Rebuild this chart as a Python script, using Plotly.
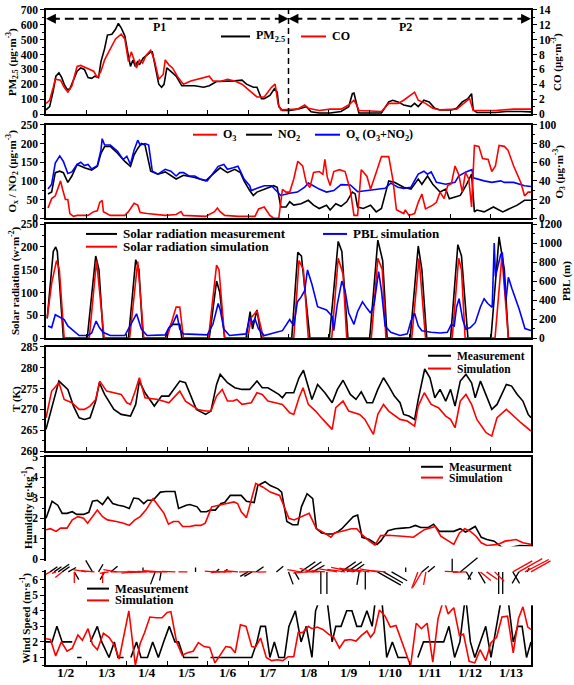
import math
import plotly.graph_objects as go

W, H = 574, 685
FONT = "Liberation Serif"
RED, BLUE, BLACK = "#ff0000", "#0000ff", "#000000"

# ---------------- data (time in days since 1/2 00:00, value) ----------------
day_labels = ["1/2", "1/3", "1/4", "1/5", "1/6", "1/7", "1/8", "1/9", "1/10", "1/11", "1/12", "1/13"]
period_split = 6.0

pm25 = [(0,28),(0.09,50),(0.18,158),(0.245,255),(0.32,277),(0.39,245),(0.45,200),(0.53,163),(0.59,170),(0.68,223),
        (0.77,288),(0.86,310),(0.95,300),(1.04,245),(1.13,240),(1.21,255),(1.30,245),(1.36,353),(1.45,440),(1.52,531),
        (1.63,537),(1.72,570),(1.79,609),(1.86,580),(1.95,526),(2.02,418),(2.09,320),(2.15,364),(2.21,320),(2.27,357),
        (2.31,331),(2.40,375),(2.50,396),(2.59,418),(2.63,418),(2.72,288),(2.79,201),(2.86,180),(2.92,200),(2.99,310),
        (3.09,288),(3.22,255),(3.36,190),(3.49,190),(3.68,190),(3.90,180),(4.04,190),(4.22,219),(4.40,219),(4.67,223),
        (4.85,228),(4.96,201),(5.13,180),(5.22,180),(5.33,104),(5.40,104),(5.54,126),(5.65,170),(5.72,148),(5.76,50),
        (5.85,24),(6.03,24),(6.22,33),(6.35,46),(6.44,50),(6.56,15),(6.76,7),(7.03,7),(7.30,17),(7.49,50),(7.58,137),
        (7.62,141),(7.69,72),(7.74,7),(7.94,7),(8.30,7),(8.48,82),(8.58,93),(8.71,82),(8.85,61),(9.03,50),(9.12,72),
        (9.21,50),(9.35,93),(9.48,82),(9.62,39),(9.75,28),(10.03,28),(10.16,39),(10.30,82),(10.44,104),(10.53,137),
        (10.57,28),(10.66,11),(11.12,11),(11.39,17),(11.75,17),(12.0,15)]

co = [(0,1.42),(0.09,1.86),(0.18,3.6),(0.23,4.68),(0.36,4.56),(0.45,3.6),(0.54,2.94),(0.64,3.8),(0.77,6.4),(0.86,6.54),
      (1.0,6.2),(1.09,6.0),(1.18,5.76),(1.27,4.9),(1.36,5.76),(1.45,7.28),(1.59,8.8),(1.72,10.1),(1.86,10.74),(1.95,10.1),
      (2.04,7.06),(2.11,8.36),(2.18,7.28),(2.24,6.2),(2.31,7.28),(2.39,6.84),(2.48,7.92),(2.59,8.58),(2.68,7.28),(2.79,4.68),
      (2.90,5.32),(2.95,7.28),(3.04,6.62),(3.13,6.2),(3.27,4.9),(3.40,4.02),(3.58,4.46),(3.81,4.8),(4.04,5.1),(4.13,4.46),
      (4.31,4.38),(4.49,4.68),(4.67,4.46),(4.85,4.02),(5.04,3.16),(5.22,2.3),(5.40,2.3),(5.58,3.6),(5.67,4.02),(5.74,1.42),
      (5.81,0.56),(6.03,0.56),(6.22,0.66),(6.40,1.22),(6.49,0.78),(6.76,0.48),(7.03,0.66),(7.30,0.66),(7.49,1.22),(7.62,1.86),
      (7.69,1.22),(7.74,0.48),(8.30,0.34),(8.48,1.44),(8.71,1.44),(8.85,1.86),(9.03,2.52),(9.12,2.94),(9.21,1.86),(9.39,1.44),
      (9.57,0.78),(9.75,0.56),(10.16,0.66),(10.34,1.44),(10.48,2.08),(10.57,0.48),(11.12,0.48),(11.57,0.66),(12.0,0.66)]

ox = [(0.05,78),(0.14,91),(0.23,148),(0.34,167),(0.43,152),(0.54,120),(0.64,124),(0.77,144),(0.86,150),(0.95,141),
      (1.04,144),(1.13,132),(1.27,141),(1.36,183),(1.39,213),(1.45,196),(1.59,196),(1.77,179),(1.91,157),(2.0,166),
      (2.09,144),(2.18,183),(2.27,209),(2.33,196),(2.45,200),(2.54,196),(2.63,126),(2.77,118),(2.95,131),(3.09,126),
      (3.22,113),(3.31,122),(3.40,122),(3.54,113),(3.68,113),(3.81,105),(3.99,100),(4.13,122),(4.26,139),(4.40,144),
      (4.49,131),(4.63,135),(4.75,139),(4.81,126),(4.90,105),(5.04,87),(5.08,74),(5.22,80),(5.40,87),(5.58,87),
      (5.81,61),(6.03,67),(6.22,70),(6.40,83),(6.49,94),(6.58,89),(6.76,78),(6.94,70),(7.12,74),(7.30,90),(7.53,89),
      (7.71,71),(7.94,74),(8.21,78),(8.39,80),(8.53,94),(8.71,83),(8.85,80),(9.03,83),(9.21,118),(9.35,126),(9.44,118),
      (9.53,124),(9.66,96),(9.89,91),(10.12,96),(10.21,113),(10.39,124),(10.54,130),(10.57,108),(10.66,105),(10.84,100),
      (11.03,96),(11.16,98),(11.25,100),(11.34,96),(11.57,96),(11.84,87),(12.0,85)]

no2 = [(0.05,65),(0.14,70),(0.23,122),(0.34,126),(0.43,122),(0.54,96),(0.64,113),(0.77,144),(0.95,135),(1.13,129),
       (1.27,139),(1.36,174),(1.45,192),(1.59,192),(1.77,174),(1.95,152),(2.09,139),(2.18,170),(2.27,187),(2.36,200),
       (2.45,196),(2.59,126),(2.77,118),(2.95,124),(3.22,105),(3.40,115),(3.68,109),(3.95,100),(4.13,118),(4.31,135),
       (4.49,122),(4.67,131),(4.81,122),(4.90,100),(5.04,74),(5.13,61),(5.22,70),(5.40,78),(5.63,87),(5.72,83),(5.81,30),
       (5.94,30),(6.03,44),(6.13,35),(6.31,39),(6.49,48),(6.62,35),(6.76,26),(6.94,35),(7.03,22),(7.17,39),(7.30,32),
       (7.44,44),(7.58,70),(7.65,65),(7.71,30),(7.85,26),(8.03,35),(8.17,17),(8.30,26),(8.48,100),(8.62,96),(8.85,83),
       (9.03,78),(9.21,105),(9.30,91),(9.44,113),(9.57,91),(9.75,70),(9.89,78),(9.98,52),(10.12,57),(10.25,61),
       (10.39,87),(10.53,118),(10.60,17),(10.66,22),(10.84,17),(11.07,30),(11.30,17),(11.48,26),(11.66,35),(11.84,48),(12.0,48)]

o3 = [(0.05,11),(0.14,21),(0.23,24),(0.32,37),(0.36,40),(0.41,31),(0.48,20),(0.54,20),(0.59,5),(0.68,2),(0.77,3),
      (1.04,3),(1.18,7),(1.27,8),(1.33,17),(1.39,19),(1.42,7),(1.59,3),(1.95,3),(2.04,7),(2.18,16),(2.27,14),(2.33,6),
      (2.50,5),(2.95,3),(3.22,4),(3.34,7),(3.40,3),(3.95,2),(4.17,7),(4.24,11),(4.31,7),(4.42,3),(4.76,2),(5.17,2),
      (5.26,10),(5.40,12),(5.54,3),(5.63,0),(5.76,0),(5.85,31),(5.94,28),(6.03,28),(6.13,42),(6.23,61),(6.35,56),
      (6.44,38),(6.53,33),(6.62,49),(6.76,50),(6.85,47),(6.90,63),(6.96,44),(7.03,35),(7.12,50),(7.26,52),(7.40,50),
      (7.53,30),(7.62,3),(7.71,3),(7.80,52),(7.94,45),(8.03,31),(8.17,49),(8.30,66),(8.48,66),(8.58,42),(8.67,9),
      (8.76,7),(8.85,5),(8.89,9),(8.98,3),(9.12,5),(9.21,17),(9.30,26),(9.39,10),(9.57,14),(9.66,17),(9.75,28),
      (9.85,21),(9.94,35),(10.03,37),(10.12,56),(10.21,47),(10.30,28),(10.38,49),(10.46,42),(10.53,12),(10.60,78),
      (10.71,77),(10.80,64),(10.94,63),(11.03,50),(11.12,56),(11.21,78),(11.34,77),(11.43,73),(11.57,56),(11.75,38),
      (11.84,24),(11.93,28),(12.0,28)]

solar_meas = [(0.03,43),(0.18,190),(0.24,200),(0.28,190),(0.43,0),
              (1.02,0),(1.23,180),(1.31,150),(1.42,0),
              (2.04,0),(2.22,172),(2.30,150),(2.40,0),
              (2.95,0),(3.09,30),(3.31,30),(3.36,0),
              (4.04,0),(4.22,125),(4.30,100),(4.42,0),
              (4.95,0),(5.05,58),(5.11,20),(5.22,62),(5.33,0),
              (6.08,0),(6.23,188),(6.32,180),(6.53,0),
              (7.01,0),(7.23,212),(7.32,190),(7.47,0),
              (8.01,0),(8.21,215),(8.33,170),(8.44,0),
              (9.01,0),(9.21,202),(9.30,150),(9.42,0),
              (10.01,0),(10.19,205),(10.28,180),(10.44,0),
              (11.01,0),(11.21,222),(11.34,150),(11.44,0),(12.0,0)]

solar_sim = [(0.03,45),(0.14,120),(0.26,170),(0.33,150),(0.45,0),
             (1.07,0),(1.25,170),(1.44,0),
             (2.07,0),(2.27,168),(2.42,0),
             (2.99,0),(3.22,68),(3.31,68),(3.40,0),
             (4.02,0),(4.22,160),(4.28,150),(4.42,0),
             (4.99,0),(5.08,45),(5.22,60),(5.38,0),
             (6.13,0),(6.26,170),(6.37,150),(6.49,0),
             (7.07,0),(7.23,175),(7.35,140),(7.44,0),
             (8.05,0),(8.21,175),(8.32,150),(8.41,0),
             (9.05,0),(9.23,175),(9.39,0),
             (10.05,0),(10.21,175),(10.28,150),(10.37,0),
             (11.11,0),(11.28,180),(11.44,0),(12.0,0)]

pbl = [(0.05,128),(0.14,111),(0.23,246),(0.36,212),(0.45,195),(0.54,128),(0.64,94),(0.73,61),(0.82,27),(1.04,27),
       (1.13,54),(1.24,179),(1.32,111),(1.41,61),(1.59,27),(1.95,27),(2.13,162),(2.24,256),(2.36,94),(2.50,27),
       (2.95,34),(3.04,111),(3.11,128),(3.18,195),(3.24,246),(3.31,94),(3.40,44),(3.99,34),(4.13,145),(4.26,364),
       (4.31,297),(4.40,94),(4.54,27),(4.95,44),(5.04,212),(5.11,162),(5.17,202),(5.26,94),(5.40,27),(5.63,54),
       (5.85,78),(6.03,195),(6.13,128),(6.22,381),(6.31,431),(6.40,499),(6.47,718),(6.58,566),(6.72,330),(6.94,297),
       (7.08,229),(7.12,78),(7.21,364),(7.32,600),(7.40,499),(7.49,263),(7.62,145),(7.71,280),(7.83,381),(7.94,313),
       (8.03,263),(8.12,364),(8.23,701),(8.30,499),(8.39,128),(8.53,61),(8.76,27),(8.94,44),(9.03,179),(9.12,263),
       (9.21,128),(9.30,78),(9.53,61),(9.75,54),(9.93,61),(10.03,145),(10.10,128),(10.16,330),(10.22,414),(10.31,195),
       (10.39,94),(10.50,111),(10.62,162),(10.75,330),(10.84,414),(10.93,364),(11.04,324),(11.09,1000),(11.12,650),
       (11.25,880),(11.29,900),(11.38,400),(11.44,640),(11.53,520),(11.71,300),(11.85,100),(12.0,80)]

t_meas = [(0,265.2),(0.14,270),(0.32,276.8),(0.54,274.8),(0.68,270.8),(0.82,268),(0.95,267.6),(1.09,268),(1.23,272),
          (1.32,276.4),(1.45,273.6),(1.68,270),(1.86,268.8),(2.09,268.4),(2.22,271.2),(2.31,276.8),(2.45,274),(2.68,270.8),
          (2.86,273.2),(3.04,273.2),(3.31,276.8),(3.45,276.4),(3.58,273.2),(3.72,270),(3.95,268.8),(4.08,269.6),(4.22,276),
          (4.31,278.4),(4.49,276.4),(4.67,275.2),(4.85,274.8),(5.04,274.8),(5.22,276.8),(5.35,275.2),(5.49,275.2),
          (5.63,274.4),(5.76,273.6),(5.85,272.8),(5.94,274),(6.13,274),(6.26,277.6),(6.37,279.4),(6.49,275.2),(6.58,272.4),
          (6.72,276),(6.90,274),(7.08,271.6),(7.21,274.8),(7.35,277),(7.53,273.6),(7.67,272.4),(7.80,274.2),(7.94,271.6),
          (8.08,271.6),(8.21,274.8),(8.35,277.6),(8.48,275.6),(8.62,273.2),(8.76,271.6),(8.85,268.8),(8.98,268.4),
          (9.12,267.6),(9.21,272.4),(9.37,279.7),(9.50,277.6),(9.62,272.8),(9.75,274.8),(9.89,272),(10.01,274.8),
          (10.12,270.8),(10.25,276.8),(10.39,278.4),(10.53,276.4),(10.62,272.8),(10.75,276.8),(10.89,273.6),(11.03,270),
          (11.16,271.2),(11.39,276),(11.52,275.6),(11.66,273.6),(11.80,272),(11.93,268.8),(12.0,268)]

t_sim = [(0,268),(0.14,274.4),(0.32,276.4),(0.45,272.4),(0.64,271.6),(0.82,270),(0.95,270),(1.09,270.8),(1.23,272.4),
         (1.33,276.8),(1.50,274.4),(1.68,274),(1.86,273.6),(2.0,271.6),(2.09,271.2),(2.22,274.8),(2.31,277.6),(2.45,272.8),
         (2.77,272.4),(3.04,271.6),(3.31,274.4),(3.45,272),(3.58,271.2),(3.76,270),(3.95,269.6),(4.08,269.6),(4.22,273.2),
         (4.36,274.8),(4.49,272),(4.63,272),(4.72,272.4),(4.85,271.2),(5.08,271.6),(5.22,274),(5.35,273.6),(5.49,272),
         (5.67,271.6),(5.85,271.2),(6.03,269.2),(6.13,268.8),(6.26,272.8),(6.36,275.2),(6.49,271.2),(6.67,269.6),
         (6.85,267.6),(7.08,265.2),(7.17,270.4),(7.35,272),(7.49,269.6),(7.76,268.8),(7.89,267.6),(8.10,264),(8.21,268.8),
         (8.35,271.2),(8.48,269.6),(8.76,267.6),(8.94,267.2),(9.12,266),(9.21,270.8),(9.36,274),(9.53,271.2),(9.71,270.4),
         (9.89,268.4),(10.01,267.6),(10.12,265.6),(10.25,272),(10.39,273.6),(10.53,271.2),(10.66,267.6),(10.89,264.4),
         (11.03,263.6),(11.16,268),(11.39,270),(11.52,268.8),(11.75,266.8),(12.0,264.8)]

hum_meas = [(0,2.0),(0.15,2.83),(0.29,2.64),(0.40,2.24),(0.52,2.24),(0.65,2.32),(0.76,2.19),(0.93,2.19),(1.06,2.29),
            (1.15,2.83),(1.27,2.88),(1.40,2.67),(1.53,3.04),(1.65,2.72),(1.79,2.64),(1.92,2.59),(2.06,2.48),(2.17,2.99),
            (2.29,2.96),(2.42,2.72),(2.51,2.88),(2.65,2.88),(2.83,3.28),(2.97,3.31),(3.19,3.31),(3.28,2.48),(3.47,2.64),
            (3.56,2.67),(3.74,2.56),(3.83,2.32),(3.97,2.32),(4.06,2.4),(4.19,2.4),(4.33,2.72),(4.42,2.77),(4.56,3.12),
            (4.83,3.12),(4.96,2.83),(5.15,2.77),(5.24,3.6),(5.42,3.79),(5.55,3.6),(5.74,3.44),(5.83,3.28),(5.96,1.84),
            (6.10,1.68),(6.23,1.68),(6.32,2.56),(6.46,3.2),(6.60,2.96),(6.69,1.49),(6.82,1.28),(6.96,1.23),(7.10,1.23),
            (7.23,1.36),(7.32,1.49),(7.60,2.08),(7.71,2.16),(7.82,1.07),(8.00,0.96),(8.19,0.72),(8.28,0.88),(8.46,1.39),
            (8.64,1.49),(8.82,1.52),(9.00,1.55),(9.14,1.65),(9.27,1.55),(9.46,1.55),(9.59,1.71),(9.73,1.36),(10.09,1.36),
            (10.25,1.49),(10.38,1.33),(10.62,1.6),(10.77,1.07),(10.91,0.96),(11.09,0.88),(11.27,0.59),(11.41,0.48),
            (11.54,0.59),(11.72,0.67),(12.0,0.64)]

hum_sim = [(0,1.44),(0.11,1.49),(0.25,1.36),(0.36,1.52),(0.52,1.52),(0.65,1.92),(0.79,2.08),(0.93,2.0),(1.03,1.76),
           (1.15,2.08),(1.27,2.4),(1.40,2.08),(1.52,1.92),(1.74,1.84),(1.92,1.76),(2.06,1.65),(2.20,1.92),(2.33,2.08),
           (2.47,2.4),(2.65,2.96),(2.79,2.56),(2.92,2.24),(3.03,1.71),(3.15,1.84),(3.28,1.84),(3.38,1.6),(3.56,1.6),
           (3.69,1.65),(3.83,1.65),(3.94,1.76),(4.10,2.56),(4.28,2.64),(4.46,2.72),(4.65,2.8),(4.74,2.72),(4.83,2.32),
           (4.96,2.03),(5.10,3.12),(5.19,3.71),(5.37,3.52),(5.55,3.28),(5.78,3.12),(6.01,2.0),(6.14,1.92),(6.37,2.11),
           (6.51,2.24),(6.69,1.49),(6.82,1.36),(7.05,1.07),(7.14,1.28),(7.32,1.36),(7.55,1.49),(7.69,1.49),(7.82,1.2),
           (8.00,0.88),(8.14,0.69),(8.28,1.15),(8.46,1.17),(8.82,1.12),(9.09,1.07),(9.36,1.44),(9.63,1.6),(9.77,1.12),
           (9.91,0.96),(10.09,0.72),(10.23,1.28),(10.36,1.49),(10.50,1.36),(10.64,1.12),(10.77,0.8),(10.91,0.67),
           (11.18,0.72),(11.36,0.88),(11.63,0.96),(11.80,0.8),(12.0,0.72)]

wind_meas = [(0,2),(0.15,2),(0.27,3),(0.40,2),(0.65,2),(0.70,None),(0.77,1),(0.88,1),(0.95,None),(1.10,2),(1.27,3),
             (1.38,2),(1.56,1),(1.69,2),(1.78,1),(1.92,1),(2.0,None),(2.10,1),(2.24,2),(2.35,1),(2.51,1),(2.64,2),
             (2.78,1),(2.91,2),(3.05,3),(3.19,2),(3.28,2),(3.41,1),(3.77,1),(3.9,None),(4.07,1),(5.09,1),(5.22,2),
             (5.31,3),(5.43,3),(5.54,1),(5.65,2),(5.76,1),(5.90,1),(6.01,3),(6.17,4),(6.31,2),(6.44,3),(6.58,1),
             (6.67,4),(6.81,5),(6.94,5),(7.08,2),(7.17,3),(7.30,3),(7.44,4),(7.57,4),(7.69,3),(7.80,3),(7.94,4),
             (8.07,3),(8.21,6),(8.30,5),(8.43,1),(8.57,2),(8.71,1),(8.93,1),(9.05,None),(9.20,1),(9.34,2),(9.84,2),
             (9.97,3),(10.11,1),(10.24,2),(10.38,5),(10.50,2),(10.61,1),(10.74,2),(10.88,3),(11.01,1),(11.15,3),
             (11.28,5),(11.42,5),(11.56,2),(11.67,3),(11.78,3),(11.89,1),(12.0,2)]

wind_sim = [(0,2.2),(0.11,2.15),(0.24,1.1),(0.38,2.0),(0.52,1.4),(0.65,1.6),(0.79,2.45),(0.90,2.1),(1.04,2.85),
            (1.15,1.85),(1.27,1.5),(1.42,2.55),(1.56,2.3),(1.69,1.8),(1.81,0.9),(1.96,3.0),(2.05,4.0),(2.21,0.5),
            (2.33,1.9),(2.44,2.6),(2.57,3.6),(2.73,3.55),(2.87,3.55),(3.00,3.9),(3.09,3.95),(3.23,2.0),(3.37,1.15),
            (3.50,1.3),(3.64,1.4),(3.77,1.95),(3.91,1.7),(4.05,1.65),(4.18,0.65),(4.32,1.2),(4.45,1.7),(4.57,1.65),
            (4.68,1.3),(4.81,3.1),(4.95,3.0),(5.09,1.7),(5.18,1.65),(5.31,2.25),(5.45,1.0),(5.58,0.8),(5.72,0.85),
            (5.86,0.8),(5.99,1.05),(6.13,1.05),(6.24,2.6),(6.35,2.6),(6.49,3.0),(6.58,2.85),(6.71,2.95),(6.85,2.8),
            (6.99,2.5),(7.12,2.3),(7.26,1.6),(7.39,2.1),(7.53,2.15),(7.67,2.05),(7.80,2.4),(7.94,2.7),(8.03,2.3),
            (8.12,2.6),(8.25,4.05),(8.39,3.65),(8.52,2.95),(8.66,3.05),(8.80,2.0),(8.93,1.05),(9.02,0.45),(9.16,3.2),
            (9.29,2.85),(9.43,3.2),(9.57,0.7),(9.70,3.5),(9.84,4.75),(9.95,3.8),(10.09,4.2),(10.23,2.4),(10.33,2.5),
            (10.47,0.75),(10.61,0.65),(10.74,1.5),(10.88,0.8),(11.01,1.95),(11.15,2.3),(11.28,3.6),(11.42,3.65),
            (11.56,1.3),(11.69,3.5),(11.80,4.25),(11.92,2.95),(12.0,2.8)]

# wind direction strip: (time, screen angle in degrees, speed m/s)
barb_meas = [(0.10,35,2),(0.20,35,2),(0.30,35,3),(0.40,35,2),(0.55,30,2),(0.70,-60,2),(1.15,120,3),(1.30,60,2),
             (1.45,-120,2),(1.60,40,2),(2.40,90,1),(2.70,-110,3),(2.85,-100,2),(3.70,90,1),(4.20,40,1),(4.40,35,1),
             (5.00,-150,2),(5.10,-150,2),(5.20,35,2),(5.70,40,2),(6.00,-70,3),(6.15,-60,2),(6.30,35,4),(6.45,35,4),
             (6.60,30,3),(6.80,-90,5),(6.95,-90,5),(7.30,35,4),(7.45,35,4),(7.60,35,3),(7.75,-100,3),(7.90,-90,4),
             (8.20,-30,6),(8.35,-30,5),(8.55,-30,4),(8.90,90,1),(9.30,40,2),(9.45,40,2),(10.05,90,3),(10.25,40,5),
             (10.40,-60,2),(10.55,-120,2),(10.70,-60,3),(11.20,-90,5),(11.30,-90,5),(11.55,-60,3),(11.70,-120,3),
             (11.90,60,1)]
barb_sim = [(0.10,-150,2),(0.25,-160,1),(0.40,-140,2),(0.70,-90,2.5),(1.00,170,3),(1.20,175,3),(1.40,-90,2.5),
            (1.55,-170,2),(1.75,170,3),(2.05,180,4),(2.20,185,3),(2.35,178,3),(2.50,182,4),(2.70,178,4),(2.85,176,4),
            (3.00,180,4),(3.20,178,3),(3.50,180,2),(4.15,175,2),(4.30,185,2),(4.45,178,3),(4.60,180,3),(4.75,175,3),
            (5.00,180,2),(5.20,178,2),(5.45,182,2),(6.30,170,3),(6.45,185,3),(6.60,165,3),(6.75,180,3),(6.90,175,3),
            (7.20,170,4),(7.40,172,4),(7.60,168,5),(7.80,170,5),(8.00,172,5),(8.20,170,4),(8.40,175,4),(9.20,-110,4),
            (9.30,-120,4),(9.40,-100,3),(10.20,178,3),(10.40,182,3),(10.75,-40,3),(10.90,-35,3),(11.10,-45,3),
            (11.55,30,5),(11.70,30,6),(11.85,28,6),(12.0,30,5)]

# ---------------- figure ----------------
def unz(pairs):
    return [p[0] for p in pairs], [p[1] for p in pairs]

XL, XR = 46, 531
XDOM = [XL / W, XR / W]
PX_PER_DAY = (XR - XL) / 12.0

def py(p):
    return 1 - p / H

panels = {1: (4, 110), 2: (121, 216), 3: (222, 338), 4: (347, 453), 5: (459, 563), 6: (576, 671)}

fig = go.Figure()
LW = 1.6

def add(pairs, color, xa, ya, width=LW):
    x, y = unz(pairs)
    fig.add_trace(go.Scatter(x=x, y=y, mode="lines", line=dict(color=color, width=width),
                             xaxis=xa, yaxis=ya, showlegend=False, hoverinfo="skip", connectgaps=False))

add(co, RED, "x", "y2")
add(pm25, BLACK, "x", "y")
add(o3, RED, "x2", "y4")
add(no2, BLACK, "x2", "y3")
add(ox, BLUE, "x2", "y3")
add(solar_meas, BLACK, "x3", "y5")
add(solar_sim, RED, "x3", "y5")
add(pbl, BLUE, "x3", "y6")
add(t_meas, BLACK, "x4", "y7")
add(t_sim, RED, "x4", "y7")
add(hum_meas, BLACK, "x5", "y8")
add(hum_sim, RED, "x5", "y8")
add(wind_meas, BLACK, "x6", "y9")
add(wind_sim, RED, "x6", "y9")

BARB_PX = 4.5
def barb_trace(barbs, color):
    xs, ys = [], []
    for t, ang, spd in barbs:
        L = spd * BARB_PX
        xs += [t, t + L * math.cos(math.radians(ang)) / PX_PER_DAY, None]
        ys += [0, L * math.sin(math.radians(ang)), None]
    fig.add_trace(go.Scatter(x=xs, y=ys, mode="lines", line=dict(color=color, width=1.3),
                             xaxis="x7", yaxis="y10", showlegend=False, hoverinfo="skip"))

barb_trace(barb_meas, BLACK)
barb_trace(barb_sim, RED)

TICKFONT = dict(family=FONT, size=11.5, color="black", weight="bold")

def xaxis_cfg(ya):
    return dict(domain=XDOM, range=[0, 12], anchor=ya, showline=True, mirror=True, linecolor="black",
                linewidth=1.5, showgrid=False, zeroline=False, tickmode="array", tickvals=list(range(13)),
                ticks="inside", ticklen=4, tickwidth=1.2, tickcolor="black", showticklabels=False)

def yaxis_cfg(panel, rng, dtick, minor, xa, right=False, overlay=None, tick0=None):
    top, bot = panels[panel]
    d = dict(domain=[py(bot), py(top)], range=rng, dtick=dtick, anchor=xa, showline=True, linecolor="black",
             linewidth=1.5, ticks="outside", ticklen=4, tickwidth=1.2, tickcolor="black", tickfont=TICKFONT,
             showgrid=False, zeroline=False,
             minor=dict(ticks="outside", ticklen=2, dtick=minor, tickcolor="black", tickwidth=1))
    if tick0 is not None:
        d["tick0"] = tick0
        d["minor"]["tick0"] = tick0
    if right:
        d.update(side="right", overlaying=overlay)
    else:
        d["mirror"] = True
    return d

layout = dict(
    width=W, height=H, margin=dict(l=0, r=0, t=0, b=0), paper_bgcolor="white", plot_bgcolor="white",
    showlegend=False, font=dict(family=FONT, color="black"), hovermode=False,
    xaxis=xaxis_cfg("y"), xaxis2=xaxis_cfg("y3"), xaxis3=xaxis_cfg("y5"), xaxis4=xaxis_cfg("y7"),
    xaxis5=xaxis_cfg("y8"), xaxis6=xaxis_cfg("y9"),
    xaxis7=dict(domain=[XL / W, 568 / W], range=[0, 12 * (568 - XL) / (XR - XL)], visible=False, anchor="y10"),
    yaxis=yaxis_cfg(1, [0, 700], 100, 50, "x"),
    yaxis2=yaxis_cfg(1, [0, 14], 2, 1, "x", right=True, overlay="y"),
    yaxis3=yaxis_cfg(2, [0, 250], 50, 25, "x2"),
    yaxis4=yaxis_cfg(2, [0, 100], 20, 10, "x2", right=True, overlay="y3"),
    yaxis5=yaxis_cfg(3, [0, 250], 50, 25, "x3"),
    yaxis6=yaxis_cfg(3, [0, 1200], 200, 100, "x3", right=True, overlay="y5"),
    yaxis7=yaxis_cfg(4, [260, 285], 5, 2.5, "x4", tick0=260),
    yaxis8=yaxis_cfg(5, [0, 5], 1, 0.5, "x5"),
    yaxis9=yaxis_cfg(6, [0.5, 6.5], 1, 0.5, "x6", tick0=0),
    yaxis10=dict(domain=[py(610), py(550)], range=[-34, 26], visible=False, anchor="x7"),
)
fig.update_layout(**layout)

shapes, annots = [], []
TITLEFONT = dict(family=FONT, size=11, color="black", weight="bold")

def vtitle(text, xpx, panel):
    top, bot = panels[panel]
    annots.append(dict(text=text, x=xpx / W, y=py((top + bot) / 2), xref="paper", yref="paper",
                       showarrow=False, textangle=-90, font=TITLEFONT, xanchor="center", yanchor="middle"))

vtitle("PM<sub>2.5</sub> (μg·m<sup>-3</sup>)", 12, 1)
vtitle("O<sub>x</sub> / NO<sub>2</sub> (μg·m<sup>-3</sup>)", 12, 2)
vtitle("Solar radiation (w·m<sup>-2</sup>)", 14, 3)
vtitle("T (K)", 17, 4)
vtitle("Humidity (g·kg<sup>-1</sup>)", 27, 5)
vtitle("Wind Speed (m·s<sup>-1</sup>)", 26, 6)
vtitle("CO (μg·m<sup>-3</sup>)", 556, 1)
vtitle("O<sub>3</sub> (μg·m<sup>-3</sup>)", 559, 2)
vtitle("PBL (m)", 566, 3)

# day labels under the bottom panel
for i, lab in enumerate(day_labels):
    annots.append(dict(text=lab, x=i + 0.5, y=py(678), xref="x6", yref="paper", showarrow=False,
                       xanchor="center", yanchor="middle",
                       font=dict(family=FONT, size=13.5, color="black", weight="bold")))

def leg(x0, x1, ypx, color, text, size=12):
    shapes.append(dict(type="line", xref="paper", yref="paper", x0=x0 / W, x1=x1 / W, y0=py(ypx), y1=py(ypx),
                       line=dict(color=color, width=2)))
    annots.append(dict(text=text, x=(x1 + 4) / W, y=py(ypx), xref="paper", yref="paper", showarrow=False,
                       xanchor="left", yanchor="middle",
                       font=dict(family=FONT, size=size, color="black", weight="bold")))

leg(221, 250, 31, BLACK, "PM<sub>2.5</sub>")
leg(301, 326, 31, RED, "CO")
leg(193, 217, 131, RED, "O<sub>3</sub>")
leg(246, 272, 131, BLACK, "NO<sub>2</sub>")
leg(315, 340, 131, BLUE, "O<sub>x</sub> (O<sub>3</sub>+NO<sub>2</sub>)")
leg(86, 117, 232, BLACK, "Solar radiation measurement", 13)
leg(86, 117, 245, RED, "Solar radiation simulation", 13)
leg(323, 347, 232, BLUE, "PBL simulation", 13)
leg(428, 451, 356, BLACK, "Measurement", 11.5)
leg(428, 451, 369, RED, "Simulation", 11.5)
leg(421, 443, 469, BLACK, "Measurment", 11.5)
leg(421, 443, 480, RED, "Simulation", 11.5)
leg(87, 109, 593, BLACK, "Measurement", 12.5)
leg(87, 109, 605, RED, "Simulation", 12.5)

# period markers (P1 / P2)
ARY = 13
shapes.append(dict(type="line", xref="x", yref="paper", x0=period_split, x1=period_split,
                   y0=py(panels[1][1]), y1=py(panels[1][0]), line=dict(color="black", width=1.5, dash="6px,4px")))
for xa, xb in [(0, period_split), (period_split, 12)]:
    shapes.append(dict(type="line", xref="x", yref="paper", x0=xa + 0.12, x1=xb - 0.12, y0=py(ARY), y1=py(ARY),
                       line=dict(color="black", width=2, dash="9px,5px")))
    annots.append(dict(x=xa, y=py(ARY), xref="x", yref="paper", text="", showarrow=True, ax=12, ay=0,
                       arrowhead=2, arrowsize=1.1, arrowwidth=1.8, arrowcolor="black"))
    annots.append(dict(x=xb, y=py(ARY), xref="x", yref="paper", text="", showarrow=True, ax=-12, ay=0,
                       arrowhead=2, arrowsize=1.1, arrowwidth=1.8, arrowcolor="black"))
PFONT = dict(family=FONT, size=12, color="black", weight="bold")
annots.append(dict(x=2.8, y=py(ARY), xref="x", yref="paper", text="P1", showarrow=False, bgcolor="white",
                   font=PFONT, borderpad=0))
annots.append(dict(x=8.9, y=py(ARY), xref="x", yref="paper", text="P2", showarrow=False, bgcolor="white",
                   font=PFONT, borderpad=0))

fig.update_layout(shapes=shapes, annotations=annots)
fig.write_html("out.html", config={"displayModeBar": False},
               post_script="document.body.style.margin='0px';document.body.style.overflow='hidden';")
